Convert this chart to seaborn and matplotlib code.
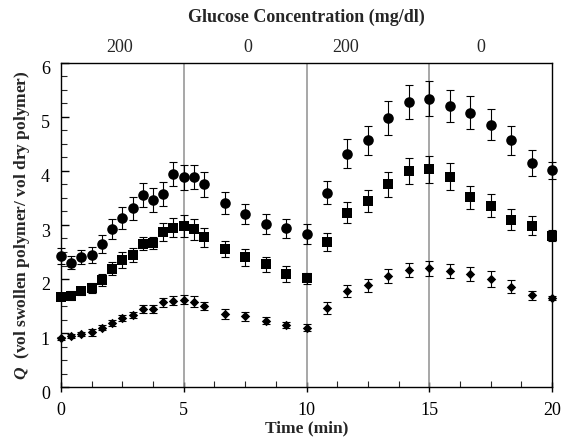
import matplotlib
matplotlib.use("Agg")
import matplotlib.pyplot as plt
import matplotlib.transforms as mtransforms
from matplotlib.ticker import MultipleLocator
import numpy as np
import pandas as pd
import seaborn as sns

time_min = [0.0, 0.42, 0.83, 1.25, 1.67, 2.08, 2.5, 2.92, 3.33, 3.75, 4.17, 4.58,
            5.0, 5.42, 5.83, 6.67, 7.5, 8.33, 9.17, 10.0, 10.83, 11.67, 12.5,
            13.33, 14.17, 15.0, 15.83, 16.67, 17.5, 18.33, 19.17, 20.0]

q_circle = [2.42, 2.30, 2.40, 2.45, 2.65, 2.93, 3.13, 3.31, 3.56, 3.46, 3.58, 3.94,
            3.88, 3.89, 3.75, 3.41, 3.20, 3.02, 2.94, 2.83, 3.60, 4.32, 4.57,
            4.98, 5.28, 5.34, 5.20, 5.08, 4.86, 4.57, 4.15, 4.01]
err_circle = [0.15, 0.12, 0.13, 0.15, 0.16, 0.19, 0.21, 0.21, 0.22, 0.22, 0.22, 0.22,
              0.23, 0.23, 0.23, 0.21, 0.18, 0.19, 0.18, 0.18, 0.22, 0.27, 0.27,
              0.31, 0.32, 0.32, 0.30, 0.30, 0.28, 0.27, 0.24, 0.15]

q_square = [1.67, 1.69, 1.78, 1.84, 1.98, 2.19, 2.35, 2.45, 2.65, 2.67, 2.87, 2.95,
            2.98, 2.92, 2.77, 2.55, 2.40, 2.27, 2.09, 2.01, 2.69, 3.23, 3.44,
            3.75, 4.00, 4.03, 3.89, 3.51, 3.36, 3.10, 2.99, 2.80]
err_square = [0.05, 0.08, 0.08, 0.09, 0.11, 0.12, 0.15, 0.13, 0.12, 0.11, 0.16, 0.18,
              0.21, 0.19, 0.17, 0.15, 0.15, 0.14, 0.15, 0.11, 0.17, 0.20, 0.20,
              0.23, 0.24, 0.25, 0.25, 0.22, 0.21, 0.19, 0.18, 0.10]

q_diamond = [0.90, 0.95, 0.98, 1.01, 1.10, 1.19, 1.28, 1.33, 1.44, 1.44, 1.57, 1.60,
             1.62, 1.58, 1.50, 1.35, 1.31, 1.23, 1.15, 1.10, 1.46, 1.77, 1.88,
             2.05, 2.17, 2.20, 2.14, 2.09, 2.00, 1.86, 1.70, 1.65]
err_diamond = [0.03, 0.04, 0.04, 0.06, 0.05, 0.06, 0.06, 0.06, 0.07, 0.07, 0.08, 0.09,
               0.09, 0.10, 0.08, 0.09, 0.08, 0.07, 0.06, 0.06, 0.11, 0.11, 0.12,
               0.13, 0.13, 0.14, 0.13, 0.13, 0.14, 0.12, 0.08, 0.04]

switch_times = [5, 10, 15]
glucose_labels = ["200", "0", "200", "0"]
glucose_label_pos = [2.4, 7.6, 11.6, 17.1]

sns.set_theme(style="ticks")
plt.rcParams["font.family"] = ["Liberation Serif", "DejaVu Serif"]
plt.rcParams["mathtext.fontset"] = "custom"
plt.rcParams["mathtext.it"] = "Liberation Serif:italic:bold"
plt.rcParams["mathtext.rm"] = "Liberation Serif:bold"

fig = plt.figure(figsize=(5.68, 4.40), dpi=100)
ax = fig.add_axes([61 / 568, (440 - 387) / 440, (552 - 61) / 568, (387 - 63) / 440])

series = [
    ("circle", q_circle, err_circle, "o", 58),
    ("square", q_square, err_square, "s", 48),
    ("diamond", q_diamond, err_diamond, "D", 23),
]

for name, q, err, marker, size in series:
    df = pd.DataFrame({"time": time_min, "Q": q, "err": err})
    ax.errorbar(df["time"], df["Q"], yerr=df["err"], fmt="none", ecolor="black",
                elinewidth=0.8, capsize=3, capthick=0.8, zorder=2, clip_on=False)
    sns.scatterplot(data=df, x="time", y="Q", marker=marker, s=size, color="black",
                    edgecolor="black", linewidth=0, ax=ax, zorder=3, clip_on=False)

for t in switch_times:
    ax.axvline(t, color="#909090", lw=1.1, zorder=1)

ax.set_xlim(0, 20)
ax.set_ylim(0, 6)
ax.xaxis.set_major_locator(MultipleLocator(5))
ax.xaxis.set_minor_locator(MultipleLocator(1.25))
ax.yaxis.set_major_locator(MultipleLocator(1))
ax.yaxis.set_minor_locator(MultipleLocator(0.25))
ax.tick_params(which="major", direction="in", length=6, width=1, labelsize=13,
               colors="black")
ax.tick_params(axis="x", which="major", direction="inout", length=7, pad=7)
ax.tick_params(axis="y", which="major", pad=8)
ax.tick_params(which="minor", direction="in", length=4, width=0.8)
for sp in ax.spines.values():
    sp.set_color("black")
    sp.set_linewidth(1.0)

ax.set_xlabel("Time (min)", fontsize=12.5, fontweight="bold", labelpad=1)
ax.set_ylabel(r"$Q$  (vol swollen polymer/ vol dry polymer)", fontsize=12.5,
              fontweight="bold", labelpad=6)

secax = ax.secondary_xaxis("top")
secax.set_xticks(glucose_label_pos, labels=glucose_labels)
secax.tick_params(length=0, labelsize=13, pad=5)
secax.spines["top"].set_visible(False)
secax.set_xlabel("Glucose Concentration (mg/dl)", fontsize=13,
                 fontweight="bold", labelpad=12)

offset = mtransforms.ScaledTranslation(0, -5 / 100, fig.dpi_scale_trans)
for lab in ax.get_yticklabels():
    lab.set_transform(lab.get_transform() + offset)

fig.savefig("out.png", dpi=100)
